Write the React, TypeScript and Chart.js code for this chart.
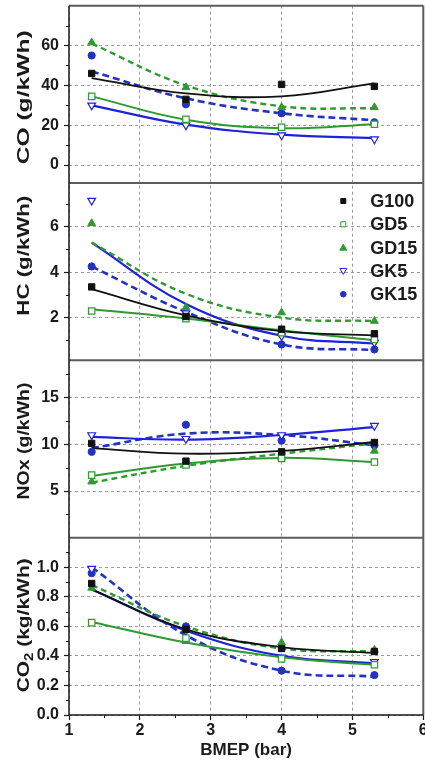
import React, { useEffect, useRef } from 'react';
import { Chart, registerables } from 'chart.js';

Chart.register(...registerables);

// ---------- data ----------
const bmep = [1.32, 2.65, 4.0, 5.31];
const xTickValues = [1, 2, 3, 4, 5, 6];
const seriesNames = ['G100', 'GD5', 'GD15', 'GK5', 'GK15'];

// CO (g/kWh) measured points
const coG100 = [46, 33, 40.5, 39.5];
const coGD5 = [34.5, 23, 19, 20.5];
const coGD15 = [61.5, 39, 29, 29];
const coGK5 = [30, 20, 15, 13];
const coGK15 = [55, 30.5, 26, 21.5];
// CO fitted curves (read at the same BMEP values)
const coFitG100 = [43.7, 36, 34.5, 41];
const coFitGD5 = [34.5, 22.8, 18.5, 20.5];
const coFitGD15 = [61, 40, 29.5, 28.5];
const coFitGK5 = [30, 20.3, 15.3, 13.5];
const coFitGK15 = [47, 33.5, 26, 22.5];

// HC (g/kWh)
const hcG100 = [3.35, 2.05, 1.49, 1.29];
const hcGD5 = [2.29, 1.95, 1.34, 1.04];
const hcGD15 = [6.15, 2.45, 2.22, 1.85];
const hcGK5 = [7.15, 2.2, 1.19, 0.9];
const hcGK15 = [4.25, 2.1, 0.82, 0.6];
const hcFitG100 = [3.25, 2.1, 1.41, 1.22];
const hcFitGD5 = [2.37, 1.96, 1.44, 1.0];
const hcFitGD15 = [5.3, 3.05, 2.0, 1.85];
const hcFitGK5 = [5.3, 2.6, 1.2, 0.86];
const hcFitGK15 = [4.25, 2.25, 0.82, 0.57];

// NOx (g/kWh)
const noxG100 = [10.1, 8.2, 9.2, 10.2];
const noxGD5 = [6.7, 7.8, 8.5, 8.1];
const noxGD15 = [6.0, 7.9, 8.6, 9.3];
const noxGK5 = [11, 10.6, 11, 12];
const noxGK15 = [9.2, 12.1, 10.4, 9.9];
const noxFitG100 = [9.6, 9.0, 9.3, 10.25];
const noxFitGD5 = [6.6, 7.95, 8.55, 8.1];
const noxFitGD15 = [5.9, 7.7, 9.0, 10.1];
const noxFitGK5 = [10.8, 10.5, 11.0, 11.85];
const noxFitGK15 = [9.6, 11.15, 11.0, 9.9];

// CO2 (kg/kWh)
const co2G100 = [0.89, 0.58, 0.45, 0.43];
const co2GD5 = [0.625, 0.52, 0.38, 0.34];
const co2GD15 = [0.86, 0.5, 0.49, 0.44];
const co2GK5 = [0.99, 0.57, 0.39, 0.36];
const co2GK15 = [0.96, 0.6, 0.3, 0.27];
const co2FitG100 = [0.85, 0.58, 0.46, 0.42];
const co2FitGD5 = [0.63, 0.49, 0.39, 0.34];
const co2FitGD15 = [0.88, 0.6, 0.45, 0.43];
const co2FitGK5 = [0.85, 0.57, 0.4, 0.35];
const co2FitGK15 = [1.0, 0.54, 0.3, 0.26];

// tick values
const coTicks = [0, 20, 40, 60];
const hcTicks = [2, 4, 6];
const noxTicks = [5, 10, 15];
const co2Ticks = [0, 0.2, 0.4, 0.6, 0.8, 1.0];

// ---------- styles ----------
const FONT = "'Liberation Sans', Arial, sans-serif";
const GREEN = '#2f9a32';
const BLUE = '#1f22d8';
const NAVY = '#2233c0';
const BLACK = '#111111';
const TEXT = '#1a1a1a';

type SeriesStyle = {
  color: string; line: string; shape: string; rotation: number; hollow: boolean;
  radius: number; dash: number[]; width: number;
};
const seriesStyles: SeriesStyle[] = [
  { color: BLACK, line: BLACK, shape: 'rect', rotation: 0, hollow: false, radius: 4.5, dash: [], width: 1.8 },
  { color: GREEN, line: GREEN, shape: 'rect', rotation: 0, hollow: true, radius: 4.5, dash: [], width: 2 },
  { color: GREEN, line: GREEN, shape: 'triangle', rotation: 0, hollow: false, radius: 4.5, dash: [6, 4], width: 2.4 },
  { color: BLUE, line: BLUE, shape: 'triangle', rotation: 180, hollow: true, radius: 4.5, dash: [], width: 2.2 },
  { color: NAVY, line: NAVY, shape: 'circle', rotation: 0, hollow: false, radius: 3.6, dash: [7, 4], width: 2.6 },
];

type TitlePart = { text: string; sub: boolean };
const panels = [
  { id: 'yCO', min: -9, max: 80, ticks: coTicks, decimals: 0,
    title: [{ text: 'CO (g/kWh)', sub: false }] as TitlePart[], titleLength: 134, titleShift: 3,
    points: [coG100, coGD5, coGD15, coGK5, coGK15], fits: [coFitG100, coFitGD5, coFitGD15, coFitGK5, coFitGK15] },
  { id: 'yHC', min: 0.12, max: 7.92, ticks: hcTicks, decimals: 0,
    title: [{ text: 'HC (g/kWh)', sub: false }] as TitlePart[], titleLength: 120, titleShift: -16,
    points: [hcG100, hcGD5, hcGD15, hcGK5, hcGK15], fits: [hcFitG100, hcFitGD5, hcFitGD15, hcFitGK5, hcFitGK15] },
  { id: 'yNOx', min: 0, max: 19, ticks: noxTicks, decimals: 0,
    title: [{ text: 'NOx (g/kWh)', sub: false }] as TitlePart[], titleLength: 117, titleShift: -8,
    points: [noxG100, noxGD5, noxGD15, noxGK5, noxGK15], fits: [noxFitG100, noxFitGD5, noxFitGD15, noxFitGK5, noxFitGK15] },
  { id: 'yCO2', min: 0, max: 1.2, ticks: co2Ticks, decimals: 1,
    title: [{ text: 'CO', sub: false }, { text: '2', sub: true }, { text: ' (kg/kWh)', sub: false }] as TitlePart[],
    titleLength: 134, titleShift: -1,
    points: [co2G100, co2GD5, co2GD15, co2GK5, co2GK15], fits: [co2FitG100, co2FitGD5, co2FitGD15, co2FitGK5, co2FitGK15] },
];

function buildDatasets() {
  const ds: any[] = [];
  panels.forEach((p) => {
    seriesNames.forEach((name, i) => {
      const st = seriesStyles[i];
      ds.push({
        label: name + ' fit',
        yAxisID: p.id,
        xAxisID: 'x',
        data: bmep.map((x, k) => ({ x, y: p.fits[i][k] })),
        showLine: true,
        tension: 0.4,
        borderColor: st.line,
        borderWidth: st.width,
        borderDash: st.dash,
        pointRadius: 0,
        order: 2,
      });
      ds.push({
        label: name,
        yAxisID: p.id,
        xAxisID: 'x',
        data: bmep.map((x, k) => ({ x, y: p.points[i][k] })),
        showLine: false,
        pointStyle: st.shape,
        pointRotation: st.rotation,
        pointRadius: st.radius,
        pointBackgroundColor: st.hollow ? '#ffffff' : st.color,
        pointBorderColor: st.color,
        pointBorderWidth: st.hollow ? 1.2 : 1,
        order: 1,
      });
    });
  });
  return ds;
}

function yAxis(p: any) {
  return {
    type: 'linear',
    position: 'left',
    stack: 'panels',
    stackWeight: 1,
    min: p.min,
    max: p.max,
    afterBuildTicks: (s: any) => { s.ticks = p.ticks.map((v: number) => ({ value: v })); },
    afterFit: (s: any) => { s.width = 69; s.paddingTop = 0; s.paddingBottom = 0; },
    ticks: {
      color: TEXT,
      padding: 5,
      autoSkip: false,
      font: { family: FONT, size: 16, weight: 'bold' },
      callback: (v: any) => Number(v).toFixed(p.decimals),
    },
    grid: { color: '#9c9c9c', lineWidth: 1, tickLength: 5, tickColor: TEXT, tickWidth: 1.2 },
    border: { display: false, dash: [3, 3] },
    title: { display: false },
  };
}

function minorValues(ticks: number[], min: number, max: number) {
  const step = ticks[1] - ticks[0];
  const out: number[] = [];
  for (let v = ticks[0] - step / 2; v <= max; v += step) {
    if (v >= min) out.push(v);
  }
  return out;
}

const framePlugin = {
  id: 'framePlugin',
  afterDraw(chart: any) {
    const ctx = chart.ctx;
    const ca = chart.chartArea;
    ctx.save();
    // minor ticks on y axes
    ctx.strokeStyle = TEXT;
    ctx.lineWidth = 1;
    panels.forEach((p) => {
      const s = chart.scales[p.id];
      minorValues(p.ticks, p.min, p.max).forEach((v) => {
        const y = Math.round(s.getPixelForValue(v)) + 0.5;
        ctx.beginPath(); ctx.moveTo(ca.left - 3, y); ctx.lineTo(ca.left, y); ctx.stroke();
      });
    });
    const xs = chart.scales.x;
    minorValues(xTickValues, 1, 6).forEach((v) => {
      const x = Math.round(xs.getPixelForValue(v)) + 0.5;
      ctx.beginPath(); ctx.moveTo(x, ca.bottom); ctx.lineTo(x, ca.bottom + 3); ctx.stroke();
    });
    // panel frames
    ctx.strokeStyle = '#5c5c5c';
    ctx.lineWidth = 2;
    panels.forEach((p) => {
      const s = chart.scales[p.id];
      ctx.beginPath(); ctx.moveTo(ca.left, s.top); ctx.lineTo(ca.right, s.top); ctx.stroke();
    });
    ctx.beginPath(); ctx.moveTo(ca.right, ca.top); ctx.lineTo(ca.right, ca.bottom); ctx.stroke();
    ctx.strokeStyle = TEXT;
    ctx.lineWidth = 1.5;
    ctx.beginPath(); ctx.moveTo(ca.left, ca.top); ctx.lineTo(ca.left, ca.bottom); ctx.lineTo(ca.right, ca.bottom); ctx.stroke();

    // vertical axis titles (stretched along their length like the source figure)
    panels.forEach((p) => {
      const s = chart.scales[p.id];
      const cy = (s.top + s.bottom) / 2 + p.titleShift;
      ctx.save();
      ctx.translate(24, cy);
      ctx.rotate(-Math.PI / 2);
      ctx.fillStyle = TEXT;
      ctx.textBaseline = 'middle';
      ctx.textAlign = 'left';
      const widths = p.title.map((part) => {
        ctx.font = `bold ${part.sub ? 12 : 17}px ${FONT}`;
        return ctx.measureText(part.text).width;
      });
      const total = widths.reduce((a, b) => a + b, 0);
      ctx.scale(p.titleLength / total, 1);
      let x = -total / 2;
      p.title.forEach((part, k) => {
        ctx.font = `bold ${part.sub ? 12 : 17}px ${FONT}`;
        ctx.fillText(part.text, x, part.sub ? 6 : 0);
        x += widths[k];
      });
      ctx.restore();
    });

    // legend inside HC panel
    const hc = chart.scales.yHC;
    const mx = ca.right - 80;
    const tx = ca.right - 53;
    ctx.font = `bold 18px ${FONT}`;
    ctx.textBaseline = 'middle';
    ctx.textAlign = 'left';
    seriesNames.forEach((name, i) => {
      const st = seriesStyles[i];
      const y = hc.top + 18 + i * 23.3;
      ctx.fillStyle = st.hollow ? '#ffffff' : st.color;
      ctx.strokeStyle = st.color;
      ctx.lineWidth = 1;
      ctx.beginPath();
      if (st.shape === 'rect') {
        ctx.rect(mx - 2.5, y - 2.5, 5, 5);
      } else if (st.shape === 'circle') {
        ctx.arc(mx, y, 2.8, 0, Math.PI * 2);
      } else if (st.rotation === 180) {
        ctx.moveTo(mx - 3.5, y - 2.5); ctx.lineTo(mx + 3.5, y - 2.5); ctx.lineTo(mx, y + 3.5); ctx.closePath();
      } else {
        ctx.moveTo(mx - 3.5, y + 2.5); ctx.lineTo(mx + 3.5, y + 2.5); ctx.lineTo(mx, y - 3.5); ctx.closePath();
      }
      ctx.fill();
      ctx.stroke();
      ctx.fillStyle = TEXT;
      ctx.fillText(name, tx, y + 1);
    });
    ctx.restore();
  },
};

export default function App() {
  const canvasRef = useRef<HTMLCanvasElement | null>(null);

  useEffect(() => {
    document.body.style.margin = '0';
    const canvas = canvasRef.current;
    if (!canvas) return;
    const scales: any = {
      x: {
        type: 'linear',
        position: 'bottom',
        min: 1,
        max: 6,
        afterBuildTicks: (s: any) => { s.ticks = xTickValues.map((v) => ({ value: v })); },
        afterFit: (s: any) => { s.height = 47; },
        ticks: {
          color: TEXT, padding: 1, maxRotation: 0, autoSkip: false,
          font: { family: FONT, size: 16, weight: 'bold' },
          callback: (v: any) => String(v),
        },
        grid: { color: '#9c9c9c', lineWidth: 1, tickLength: 5, tickColor: TEXT, tickWidth: 1.2 },
        border: { display: false, dash: [3, 3] },
        title: {
          display: true, text: 'BMEP (bar)', color: TEXT,
          font: { family: FONT, size: 17, weight: 'bold' }, padding: { top: 0, bottom: 1 },
        },
      },
    };
    // left stacked axes: the last defined one is placed on top
    [...panels].reverse().forEach((p) => { scales[p.id] = yAxis(p); });

    const chart = new Chart(canvas, {
      type: 'scatter',
      data: { datasets: buildDatasets() },
      options: {
        responsive: false,
        animation: false,
        devicePixelRatio: 1,
        layout: { padding: { top: 4, right: 0, bottom: 0, left: 0 } },
        plugins: { legend: { display: false }, tooltip: { enabled: false } },
        scales,
      } as any,
      plugins: [framePlugin],
    });
    return () => chart.destroy();
  }, []);

  return (
    <div style={{ width: 425, height: 762, background: '#fff', overflow: 'hidden' }}>
      <canvas ref={canvasRef} width={429} height={762} style={{ display: 'block' }} />
    </div>
  );
}
